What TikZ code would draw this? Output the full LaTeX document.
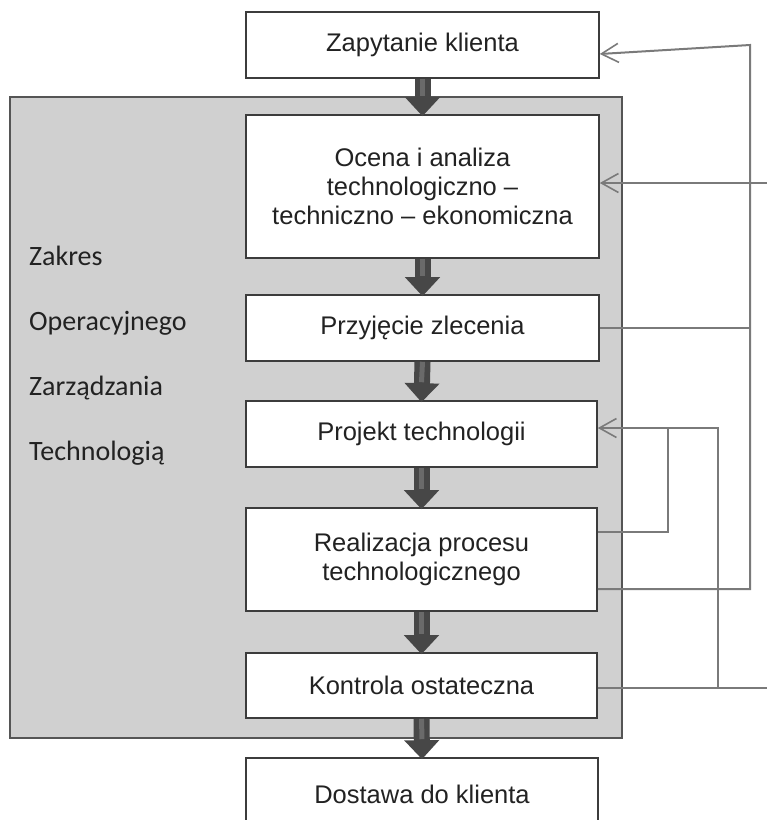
\documentclass[tikz,border=0pt]{standalone}
\usepackage{fontspec}
\setmainfont{Liberation Sans}
\newfontfamily\labelfont{Carlito}
\usetikzlibrary{arrows.meta}

\definecolor{panelfill}{HTML}{D0D0D0}
\definecolor{panelline}{HTML}{555555}
\definecolor{boxline}{HTML}{3C3C3C}
\definecolor{textdark}{HTML}{222222}
\definecolor{linkgray}{HTML}{7A7A7A}
\definecolor{flowdark}{HTML}{474747}
\definecolor{flowlight}{HTML}{6A6A6A}

\tikzset{
  stepbox/.style={draw=boxline, line width=1.6pt, fill=white, text=textdark,
    align=center, inner sep=0pt, font=\fontsize{25.5}{29}\selectfont},
  sidelabel/.style={anchor=base west, text=textdark, inner sep=0pt,
    font=\labelfont\fontsize{28}{33}\selectfont},
  link/.style={draw=linkgray, line width=2pt},
  linkin/.style={link, -{Straight Barb[length=17pt,width=19pt,line width=1.6pt]}},
  flow/.style={draw=flowdark, line width=16pt, -{Triangle[length=19pt,width=34pt]}},
  flowshine/.style={draw=flowlight, line width=5pt},
}

\begin{document}
\begin{tikzpicture}[x=1pt,y=-1pt]
  \clip (0,0) rectangle (767,820);

  % operational management area
  \draw[fill=panelfill, draw=panelline, line width=2pt] (10,97) rectangle (622,738);

  % process steps
  \node[stepbox, minimum width=353pt, minimum height=66pt]  (zap)   at (422.5,45)    {Zapytanie klienta};
  \node[stepbox, minimum width=353pt, minimum height=143pt] (ocena) at (422.5,186.5) {Ocena i analiza\\technologiczno –\\techniczno – ekonomiczna};
  \node[stepbox, minimum width=353pt, minimum height=66pt]  (przyj) at (422.5,328)   {Przyjęcie zlecenia};
  \node[stepbox, minimum width=351pt, minimum height=66pt]  (proj)  at (421.5,434)   {Projekt technologii};
  \node[stepbox, minimum width=351pt, minimum height=103pt] (real)  at (421.5,559.5) {Realizacja procesu\\technologicznego};
  \node[stepbox, minimum width=351pt, minimum height=65pt]  (kontr) at (421.5,685.5) {Kontrola ostateczna};
  \node[stepbox, minimum width=352pt, minimum height=72pt]  (dost)  at (422,794)     {Dostawa do klienta};

  % area caption
  \node[sidelabel] (l1) at (29,265) {Zakres};
  \node[sidelabel] (l2) at (29,330) {Operacyjnego};
  \node[sidelabel] (l3) at (29,395) {Zarządzania};
  \node[sidelabel] (l4) at (29,460) {Technologią};

  % feedback buses
  \coordinate (busA) at (750,0);
  \coordinate (busC) at (718,0);
  \coordinate (busD) at (668,0);
  \coordinate (inB)  at (767,183);
  \coordinate (outC) at (767,688);

  \draw[linkin] ([yshift=-29.5pt]real.east) -| (busA |- zap.east) -- ([yshift=-9pt]zap.east);
  \draw[link] (przyj.east) -- (przyj.east -| busA);
  \draw[linkin] (inB) -- (inB -| ocena.east);
  \draw[link] (kontr.east |- outC) -- (outC);
  \draw[linkin] (busC |- outC) |- ([yshift=6pt]proj.east);
  \draw[link] ([yshift=27.5pt]real.east) -| ([yshift=6pt]proj.east -| busD);

  % main flow
  \foreach \a/\b in {zap/ocena, ocena/przyj, przyj/proj, proj/real, real/kontr, kontr/dost}{
    \draw[flow] (\a.south) -- ([yshift=-2pt]\b.north);
    \draw[flowshine] (\a.south) -- ([yshift=18pt]\b.north);
  }
\end{tikzpicture}
\end{document}
